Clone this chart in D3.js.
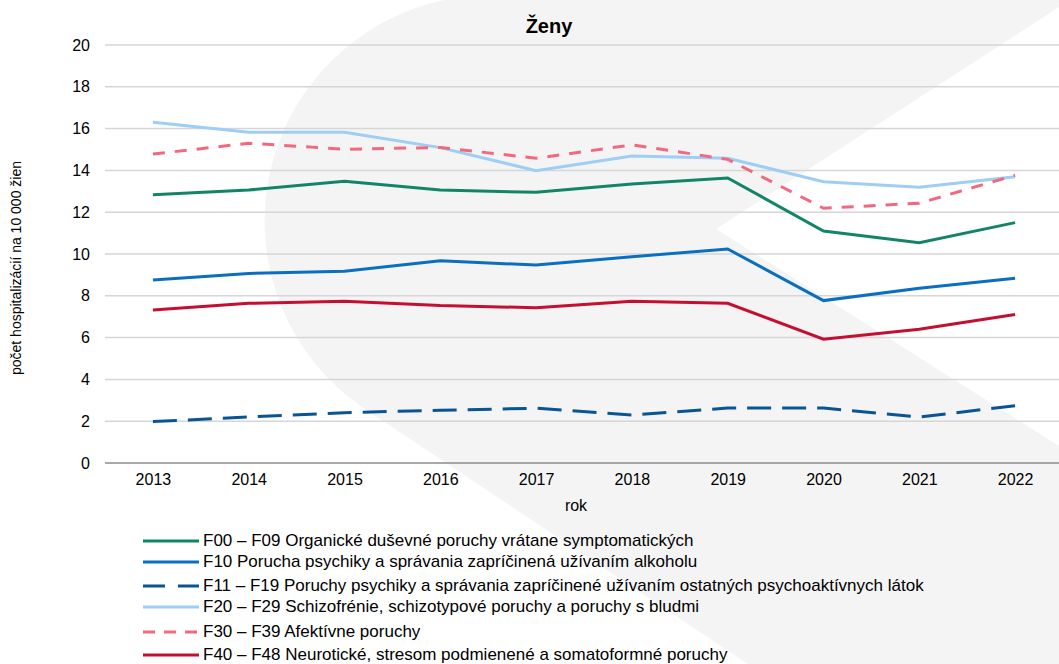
<!DOCTYPE html>
<html>
<head>
<meta charset="utf-8">
<script src="https://cdn.jsdelivr.net/npm/d3@7"></script>
<style>
  body { margin: 0; background: #fff; }
  text { font-family: "Liberation Sans", Arial, sans-serif; fill: #000; }
</style>
</head>
<body>
<div id="vis"></div>
<script>
// data
var years = [2013, 2014, 2015, 2016, 2017, 2018, 2019, 2020, 2021, 2022];
var f00 = [12.84, 13.06, 13.48, 13.06, 12.95, 13.35, 13.64, 11.1, 10.54, 11.5];
var f10 = [8.76, 9.07, 9.17, 9.68, 9.47, 9.87, 10.24, 7.77, 8.36, 8.84];
var f11 = [1.98, 2.2, 2.41, 2.52, 2.62, 2.3, 2.63, 2.63, 2.2, 2.74];
var f20 = [16.3, 15.82, 15.82, 15.09, 13.99, 14.69, 14.58, 13.46, 13.19, 13.7];
var f30 = [14.78, 15.3, 15.01, 15.1, 14.58, 15.22, 14.53, 12.19, 12.43, 13.77];
var f40 = [7.32, 7.64, 7.74, 7.53, 7.43, 7.74, 7.64, 5.92, 6.4, 7.11];
var yTicks = [0, 2, 4, 6, 8, 10, 12, 14, 16, 18, 20];

var seriesNames = [
    "F00 – F09 Organické duševné poruchy vrátane symptomatických",
    "F10 Porucha psychiky a správania zapríčinená užívaním alkoholu",
    "F11 – F19 Poruchy psychiky a správania zapríčinené užívaním ostatných psychoaktívnych látok",
    "F20 – F29 Schizofrénie, schizotypové poruchy a poruchy s bludmi",
    "F30 – F39 Afektívne  poruchy",
    "F40 – F48 Neurotické, stresom  podmienené  a somatoformné  poruchy"
];

var series = [
    {name: seriesNames[0], values: f00, color: '#128566', dash: null},
    {name: seriesNames[1], values: f10, color: '#0a6fbf', dash: null},
    {name: seriesNames[2], values: f11, color: '#075595', dash: '24,11'},
    {name: seriesNames[3], values: f20, color: '#9ecdf6', dash: null},
    {name: seriesNames[4], values: f30, color: '#f2697f', dash: '12,10'},
    {name: seriesNames[5], values: f40, color: '#c50f32', dash: null}
];

var width = 1059, height = 664;

var svg = d3.select('#vis').append('svg')
    .attr('width', width)
    .attr('height', height);

// background logo shape
svg.append('path')
    .attr('d', 'M444,0 A226,226 0 0 0 365,409 L748,664 L1059,664 L1059,446 L716,229 L1070,0 Z')
    .attr('fill', '#f4f4f4');

var x = d3.scalePoint().domain(years).range([105, 1063]).padding(0.5);
var y = d3.scaleLinear().domain([0, 20]).range([463, 45]);

// gridlines
svg.selectAll('.grid')
    .data(yTicks.filter(function(d){ return d > 0; }))
    .enter().append('line')
    .attr('x1', 105)
    .attr('x2', width)
    .attr('y1', function(d){ return y(d); })
    .attr('y2', function(d){ return y(d); })
    .attr('stroke', '#d6d6d6')
    .attr('stroke-width', 1.5);

// baseline
svg.append('line')
    .attr('x1', 105)
    .attr('x2', width)
    .attr('y1', y(0))
    .attr('y2', y(0))
    .attr('stroke', '#8c8c8c')
    .attr('stroke-width', 1.5);

// y axis labels
var yAxis = svg.append('g')
    .attr('transform', 'translate(90,0)')
    .call(d3.axisLeft(y).tickValues(yTicks).tickSize(0).tickPadding(0));
yAxis.select('.domain').remove();
yAxis.selectAll('text')
    .style('font-family', '"Liberation Sans", Arial, sans-serif')
    .style('font-size', '16px')
    .attr('fill', '#000');

// x axis labels
var xAxis = svg.append('g')
    .attr('transform', 'translate(0,' + y(0) + ')')
    .call(d3.axisBottom(x).tickSize(0).tickPadding(11));
xAxis.select('.domain').remove();
xAxis.selectAll('text')
    .style('font-family', '"Liberation Sans", Arial, sans-serif')
    .style('font-size', '16px')
    .attr('fill', '#000');

var line = d3.line()
    .x(function(d, i){ return x(years[i]); })
    .y(function(d){ return y(d); });

for (var i in series) {
    svg.append('path')
        .datum(series[i].values)
        .attr('d', line)
        .attr('fill', 'none')
        .attr('stroke', series[i].color)
        .attr('stroke-width', 3)
        .attr('stroke-dasharray', series[i].dash);
}

// titles
svg.append('text')
    .attr('x', 549)
    .attr('y', 33)
    .attr('text-anchor', 'middle')
    .style('font-size', '20px')
    .style('font-weight', 'bold')
    .text('Ženy');

svg.append('text')
    .attr('x', 576)
    .attr('y', 511)
    .attr('text-anchor', 'middle')
    .style('font-size', '16px')
    .text('rok');

svg.append('text')
    .attr('transform', 'translate(21,268) rotate(-90)')
    .attr('text-anchor', 'middle')
    .style('font-size', '14px')
    .text('počet hospitalizácií na  10 000  žien');

// legend
var legendY = [541, 562, 586, 607, 632, 655];
var legend = svg.append('g');
for (var j in series) {
    legend.append('line')
        .attr('x1', 143)
        .attr('x2', 199)
        .attr('y1', legendY[j])
        .attr('y2', legendY[j])
        .attr('stroke', series[j].color)
        .attr('stroke-width', 3)
        .attr('stroke-dasharray', series[j].dash ? (j == 2 ? '22,13' : '12,9') : null);
    legend.append('text')
        .attr('x', 203)
        .attr('y', legendY[j] + 5)
        .style('font-size', '17px')
        .text(series[j].name);
}
</script>
</body>
</html>
